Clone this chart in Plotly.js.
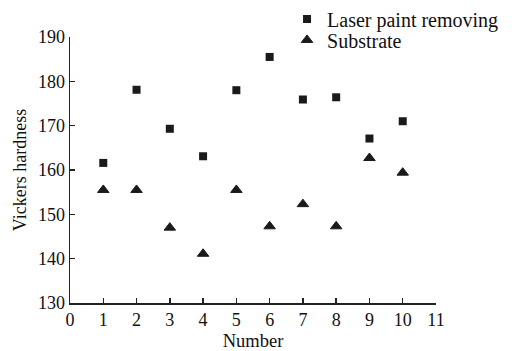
<!DOCTYPE html>
<html>
<head>
<meta charset="utf-8">
<script src="https://cdn.plot.ly/plotly-3.0.1.min.js"></script>
<style>html,body{margin:0;padding:0;background:#fff;}#chart{width:518px;height:351px;}</style>
</head>
<body>
<div id="chart"></div>
<script>
const numbers = [1, 2, 3, 4, 5, 6, 7, 8, 9, 10];
const laserPaintRemoving = [161.6, 178.1, 169.3, 163.1, 178.0, 185.5, 175.9, 176.4, 167.1, 171.0];
const substrate = [155.5, 155.5, 147.0, 141.1, 155.5, 147.3, 152.3, 147.3, 162.7, 159.4];
const xTicks = [0, 1, 2, 3, 4, 5, 6, 7, 8, 9, 10, 11];
const yTicks = [130, 140, 150, 160, 170, 180, 190];

const fam = '"Liberation Serif", "Times New Roman", serif';
const ink = '#111';

const traces = [
  {x: numbers, y: laserPaintRemoving, type: 'scatter', mode: 'markers', name: 'Laser paint removing',
   legend: 'legend',
   marker: {symbol: 'square', size: 8, color: '#1a1a1a'}},
  {x: numbers, y: substrate, type: 'scatter', mode: 'markers', name: 'Substrate',
   legend: 'legend2',
   marker: {symbol: 'triangle-up', size: 10, color: '#1a1a1a', line: {color: '#1a1a1a', width: 1}}}
];

const legendFont = {family: fam, size: 20, color: ink};
const layout = {
  width: 518, height: 351,
  margin: {l: 70, r: 82, t: 37, b: 48, autoexpand: false},
  paper_bgcolor: '#fff', plot_bgcolor: '#fff',
  font: {family: fam, size: 18, color: ink},
  showlegend: true,
  legend: {x: 0.593, y: 1.068, xanchor: 'left', yanchor: 'middle', bgcolor: 'rgba(0,0,0,0)', font: legendFont},
  legend2: {x: 0.593, y: 0.989, xanchor: 'left', yanchor: 'middle', bgcolor: 'rgba(0,0,0,0)', font: legendFont},
  xaxis: {
    range: [0, 11], tickvals: xTicks, ticktext: xTicks.map(String),
    ticks: 'inside', ticklen: 5, tickwidth: 1.5, tickcolor: '#222',
    showline: true, linecolor: '#222', linewidth: 1.5, showgrid: false, zeroline: false,
    tickfont: {family: fam, size: 18, color: ink},
    title: {text: 'Number', font: {family: fam, size: 18.5, color: ink}, standoff: 6}
  },
  yaxis: {
    range: [130, 190], tickvals: yTicks, ticktext: yTicks.map(String),
    ticks: 'inside', ticklen: 5, tickwidth: 1.5, tickcolor: '#222',
    showline: true, linecolor: '#222', linewidth: 1.5, showgrid: false, zeroline: false,
    tickfont: {family: fam, size: 18, color: ink},
    title: {text: 'Vickers hardness', font: {family: fam, size: 18, color: ink}, standoff: 6}
  }
};

Plotly.newPlot('chart', traces, layout, {staticPlot: true, displayModeBar: false});
</script>
</body>
</html>
